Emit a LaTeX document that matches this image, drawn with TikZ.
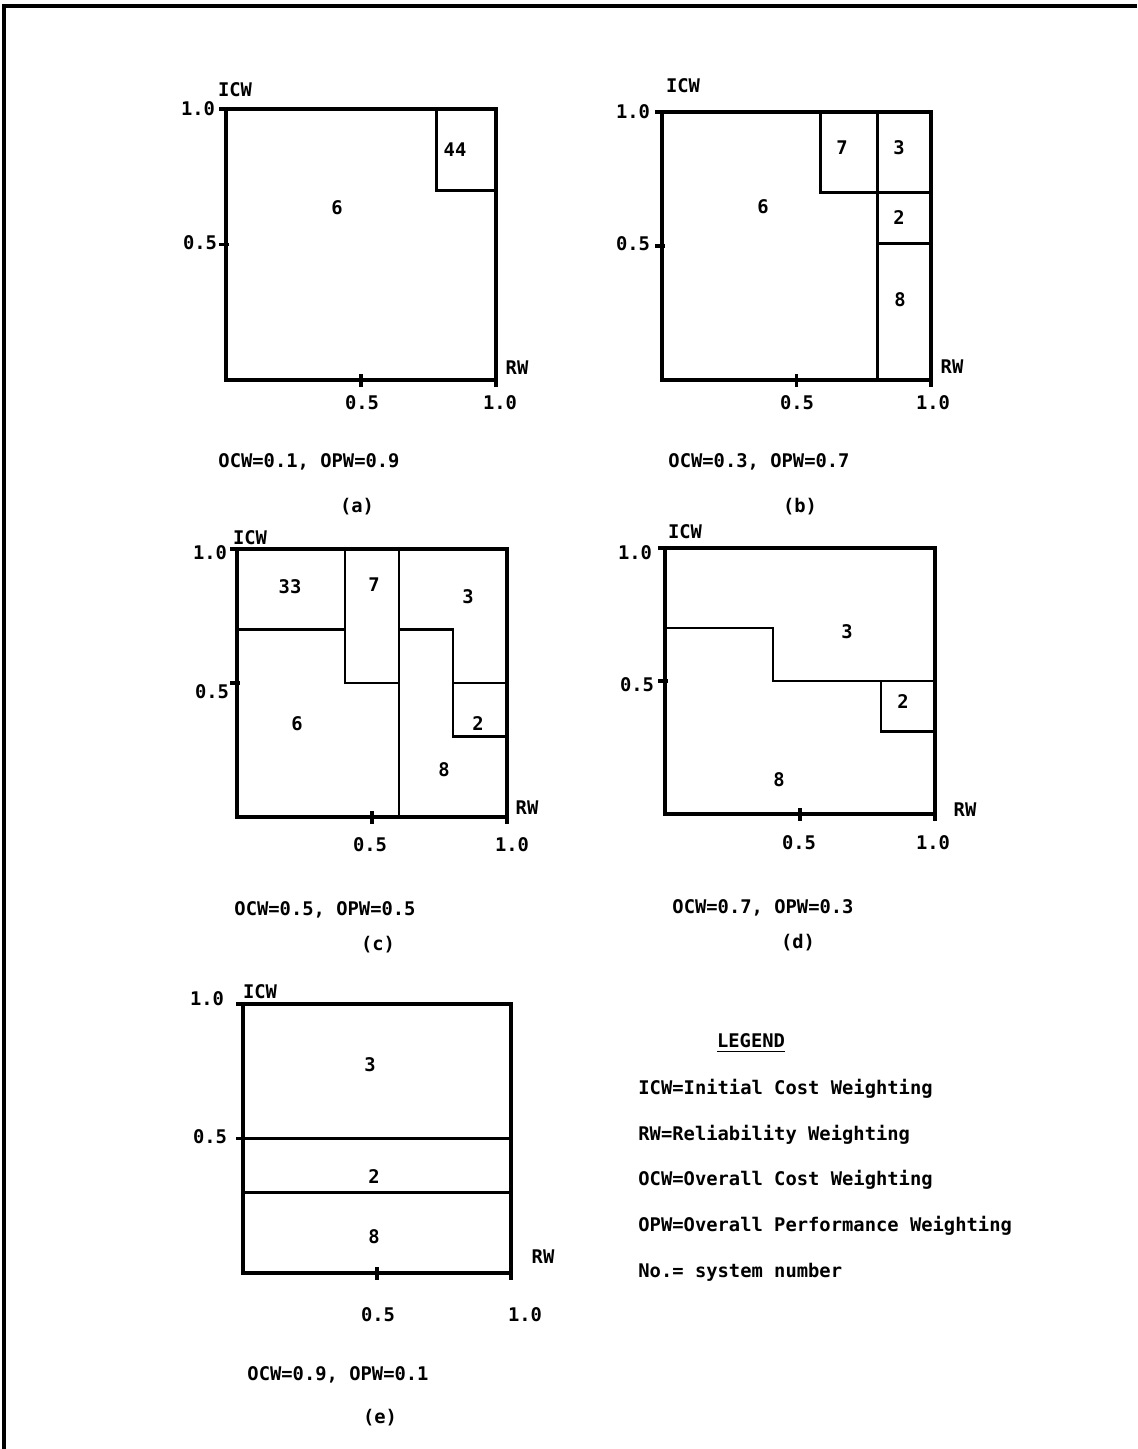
\documentclass[tikz,border=0pt]{standalone}
\usepackage{fontspec}
\newfontfamily\pf{DejaVu Sans Mono}
\begin{document}
\begin{tikzpicture}[x=0.5pt,y=-0.5pt,
  lbl/.style={font=\pf\bfseries\fontsize{9.4}{11}\selectfont, inner sep=0pt},
  frame/.style={line width=1.8pt},
  part/.style={line width=1.3pt}]
\useasboundingbox (0,0) rectangle (1137,1449);
\draw[line width=2.2pt] (4,1449) -- (4,6) -- (1137,6);

% ---------- panel (a)
\begin{scope}[shift={(226,380)},x=135pt,y=135.5pt]
  \draw[frame] (0,0) rectangle (1,1);
  \draw[frame] (0,1) ++(1pt,0) -- ++(-4.5pt,0) (0,0.5) ++(1.5pt,0) -- ++(-5pt,0)
               (0.5,0) ++(0,3pt) -- ++(0,-6.5pt) (1,0) -- ++(0,-3.5pt);
  \draw[part] (0.78,1) -- (0.78,0.7) -- (1,0.7);
\end{scope}
\node[lbl] (aicw) at (235,90) {ICW};
\node[lbl] (ay1) at (198,109) {1.0};
\node[lbl] (ay5) at (200,243) {0.5};
\node[lbl] (ax5) at (362,403) {0.5};
\node[lbl] (ax1) at (500,403) {1.0};
\node[lbl] (arw) at (517,368) {RW};
\node[lbl] (a44) at (455,150) {44};
\node[lbl] (a6) at (337,208) {6};
\node[lbl] (acap) at (309,462) {OCW=0.1, OPW=0.9};
\node[lbl] (atag) at (357,507) {(a)};

% ---------- panel (b)
\begin{scope}[shift={(662,380)},x=134.5pt,y=134pt]
  \draw[frame] (0,0) rectangle (1,1);
  \draw[frame] (0,1) ++(1pt,0) -- ++(-4.5pt,0) (0,0.5) ++(1.5pt,0) -- ++(-5pt,0)
               (0.5,0) ++(0,3pt) -- ++(0,-6.5pt) (1,0) -- ++(0,-3.5pt);
  \draw[part] (0.59,1) -- (0.59,0.7) -- (1,0.7);
  \draw[part] (0.8,1) -- (0.8,0);
  \draw[part] (0.8,0.51) -- (1,0.51);
\end{scope}
\node[lbl] (bicw) at (683,86) {ICW};
\node[lbl] (by1) at (633,112) {1.0};
\node[lbl] (by5) at (633,244) {0.5};
\node[lbl] (bx5) at (797,403) {0.5};
\node[lbl] (bx1) at (933,403) {1.0};
\node[lbl] (brw) at (952,367) {RW};
\node[lbl] (b7) at (842,148) {7};
\node[lbl] (b3) at (899,148) {3};
\node[lbl] (b2) at (899,218) {2};
\node[lbl] (b8) at (900,300) {8};
\node[lbl] (b6) at (763,207) {6};
\node[lbl] (bcap) at (759,462) {OCW=0.3, OPW=0.7};
\node[lbl] (btag) at (800,507) {(b)};

% ---------- panel (c)
\begin{scope}[shift={(237,817)},x=135pt,y=134pt]
  \draw[frame] (0,0) rectangle (1,1);
  \draw[frame] (0,1) ++(1pt,0) -- ++(-4.5pt,0) (0,0.5) ++(1.5pt,0) -- ++(-5pt,0)
               (0.5,0) ++(0,3pt) -- ++(0,-6.5pt) (1,0) -- ++(0,-3.5pt);
  \draw[part] (0,0.7) -- (0.4,0.7);
  \draw[part] (0.4,1) -- (0.4,0.5) -- (0.6,0.5);
  \draw[part] (0.6,1) -- (0.6,0);
  \draw[part] (0.6,0.7) -- (0.8,0.7) -- (0.8,0.3) -- (1,0.3);
  \draw[part] (0.8,0.5) -- (1,0.5);
\end{scope}
\node[lbl] (cicw) at (250,538) {ICW};
\node[lbl] (cy1) at (210,553) {1.0};
\node[lbl] (cy5) at (212,692) {0.5};
\node[lbl] (cx5) at (370,845) {0.5};
\node[lbl] (cx1) at (512,845) {1.0};
\node[lbl] (crw) at (527,808) {RW};
\node[lbl] (c33) at (290,587) {33};
\node[lbl] (c7) at (374,585) {7};
\node[lbl] (c3) at (468,597) {3};
\node[lbl] (c6) at (297,724) {6};
\node[lbl] (c2) at (478,724) {2};
\node[lbl] (c8) at (444,770) {8};
\node[lbl] (ccap) at (325,910) {OCW=0.5, OPW=0.5};
\node[lbl] (ctag) at (378,945) {(c)};

% ---------- panel (d)
\begin{scope}[shift={(665,814)},x=135pt,y=133pt]
  \draw[frame] (0,0) rectangle (1,1);
  \draw[frame] (0,1) ++(1pt,0) -- ++(-4.5pt,0) (0,0.5) ++(1.5pt,0) -- ++(-5pt,0)
               (0.5,0) ++(0,3pt) -- ++(0,-6.5pt) (1,0) -- ++(0,-3.5pt);
  \draw[part] (0,0.7) -- (0.4,0.7) -- (0.4,0.5) -- (1,0.5);
  \draw[part] (0.8,0.5) -- (0.8,0.31) -- (1,0.31);
\end{scope}
\node[lbl] (dicw) at (685,532) {ICW};
\node[lbl] (dy1) at (635,553) {1.0};
\node[lbl] (dy5) at (637,685) {0.5};
\node[lbl] (dx5) at (799,843) {0.5};
\node[lbl] (dx1) at (933,843) {1.0};
\node[lbl] (drw) at (965,810) {RW};
\node[lbl] (d3) at (847,632) {3};
\node[lbl] (d2) at (903,702) {2};
\node[lbl] (d8) at (779,780) {8};
\node[lbl] (dcap) at (763,908) {OCW=0.7, OPW=0.3};
\node[lbl] (dtag) at (798,943) {(d)};

% ---------- panel (e)
\begin{scope}[shift={(243,1273)},x=134pt,y=134.5pt]
  \draw[frame] (0,0) rectangle (1,1);
  \draw[frame] (0,1) ++(1pt,0) -- ++(-4.5pt,0) (0,0.5) ++(1.5pt,0) -- ++(-5pt,0)
               (0.5,0) ++(0,3pt) -- ++(0,-6.5pt) (1,0) -- ++(0,-3.5pt);
  \draw[part] (0,0.5) -- (1,0.5);
  \draw[part] (0,0.3) -- (1,0.3);
\end{scope}
\node[lbl] (eicw) at (260,992) {ICW};
\node[lbl] (ey1) at (207,999) {1.0};
\node[lbl] (ey5) at (210,1137) {0.5};
\node[lbl] (ex5) at (378,1315) {0.5};
\node[lbl] (ex1) at (525,1315) {1.0};
\node[lbl] (erw) at (543,1257) {RW};
\node[lbl] (e3) at (370,1065) {3};
\node[lbl] (e2) at (374,1177) {2};
\node[lbl] (e8) at (374,1237) {8};
\node[lbl] (ecap) at (338,1375) {OCW=0.9, OPW=0.1};
\node[lbl] (etag) at (380,1418) {(e)};

% ---------- legend
\node[lbl] (leg) at (751,1043) {\underline{LEGEND}};
\node[lbl,anchor=west] (l1) at (638,1089) {ICW=Initial Cost Weighting};
\node[lbl,anchor=west] (l2) at (638,1135) {RW=Reliability Weighting};
\node[lbl,anchor=west] (l3) at (638,1180) {OCW=Overall Cost Weighting};
\node[lbl,anchor=west] (l4) at (638,1226) {OPW=Overall Performance Weighting};
\node[lbl,anchor=west] (l5) at (638,1272) {No.= system number};
\end{tikzpicture}
\end{document}
